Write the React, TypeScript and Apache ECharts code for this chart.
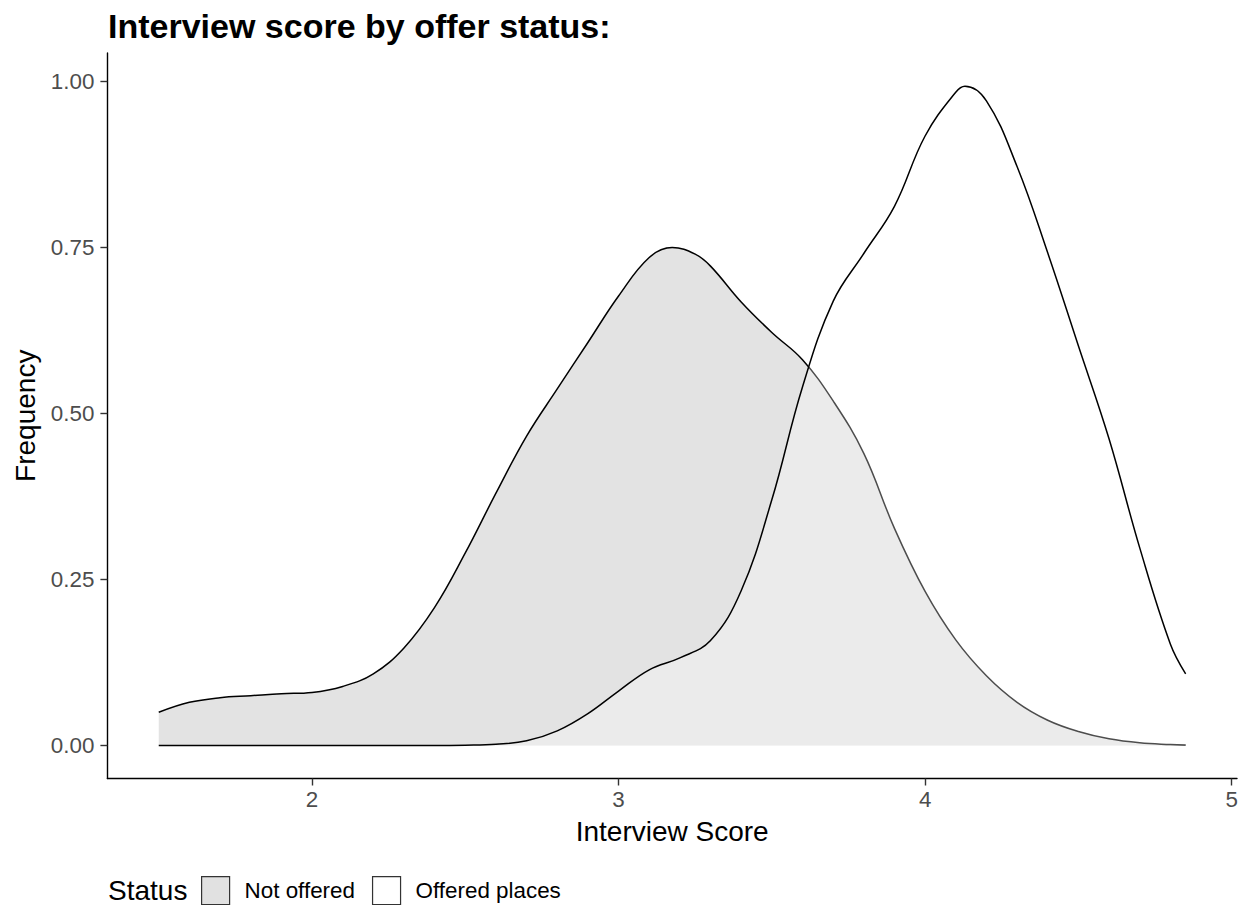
import React, { useEffect, useRef } from "react";
import * as echarts from "echarts";

const FONT = "'Liberation Sans', Arial, Helvetica, sans-serif";

const titleText = "Interview score by offer status:";
const xAxisTitle = "Interview Score";
const yAxisTitle = "Frequency";
const legendTitle = "Status";
const seriesNames = ["Not offered", "Offered places"];

const xTicks = [2, 3, 4, 5];
const yTicks = [0, 0.25, 0.5, 0.75, 1.0];

const notOfferedX = [
  1.5, 1.6, 1.7, 1.8, 1.9, 2.0, 2.1, 2.2, 2.3, 2.4, 2.5, 2.6, 2.7, 2.8, 2.9,
  3.0, 3.1, 3.175, 3.25, 3.3, 3.4, 3.5, 3.6, 3.7, 3.8, 3.9, 4.0, 4.1, 4.2, 4.3,
  4.4, 4.5, 4.6, 4.7, 4.8, 4.85,
];
const notOfferedY = [
  0.05, 0.065, 0.072, 0.075, 0.078, 0.08, 0.089, 0.108, 0.147, 0.208, 0.29,
  0.38, 0.466, 0.537, 0.607, 0.677, 0.735, 0.75, 0.74, 0.722, 0.668, 0.622,
  0.581, 0.519, 0.44, 0.327, 0.232, 0.159, 0.105, 0.065, 0.038, 0.021, 0.01,
  0.004, 0.0015, 0.0008,
];

const offeredX = [
  1.5, 1.6, 1.7, 1.8, 1.9, 2.0, 2.1, 2.2, 2.3, 2.4, 2.5, 2.6, 2.7, 2.8, 2.9,
  3.0, 3.1, 3.2, 3.3, 3.4, 3.5, 3.6, 3.7, 3.8, 3.9, 4.0, 4.1, 4.13, 4.2, 4.3,
  4.4, 4.5, 4.6, 4.7, 4.8, 4.85,
];
const offeredY = [
  0, 0, 0, 0, 0, 0, 0, 0, 0, 0, 0.0005, 0.002, 0.007, 0.022, 0.048, 0.082,
  0.114, 0.132, 0.158, 0.233, 0.37, 0.54, 0.669, 0.741, 0.812, 0.918, 0.984,
  0.993, 0.971, 0.872, 0.742, 0.602, 0.462, 0.298, 0.153, 0.108,
];

const zip = (xs: number[], ys: number[]) => xs.map((x, i) => [x, ys[i]]);

export default function App() {
  const ref = useRef<HTMLDivElement>(null);

  useEffect(() => {
    if (!ref.current) return;
    const chart = echarts.init(ref.current, undefined, { renderer: "svg" });
    const xMin = 1.3325;
    const xMax = 5.0175;
    const yMin = -0.0497;
    const yMax = 1.043;

    chart.setOption({
      animation: false,
      backgroundColor: "#ffffff",
      title: {
        text: titleText,
        left: 108,
        top: 9,
        padding: 0,
        textStyle: {
          fontFamily: FONT,
          fontSize: 34,
          fontWeight: "bold",
          color: "#000000",
        },
      },
      grid: {
        left: 107.4,
        right: 7,
        top: 53,
        bottom: 126.5,
        containLabel: false,
      },
      legend: {
        left: 201,
        top: 876,
        padding: 0,
        itemWidth: 28,
        itemHeight: 28,
        itemGap: 17,
        selectedMode: false,
        textStyle: {
          fontFamily: FONT,
          fontSize: 22.4,
          color: "#000000",
          padding: [0, 0, 0, 10],
        },
        data: [
          {
            name: seriesNames[0],
            icon: "rect",
            itemStyle: { color: "#e1e1e1", borderColor: "#333333", borderWidth: 1.2 },
          },
          {
            name: seriesNames[1],
            icon: "rect",
            itemStyle: { color: "#ffffff", borderColor: "#333333", borderWidth: 1.2 },
          },
        ],
      },
      graphic: [
        {
          type: "text",
          x: 108,
          y: 890,
          style: {
            text: legendTitle,
            fontFamily: FONT,
            fontSize: 28,
            fill: "#000000",
            verticalAlign: "middle",
            align: "left",
          },
        },
      ],
      xAxis: {
        type: "value",
        min: xMin,
        max: xMax,
        name: xAxisTitle,
        nameLocation: "middle",
        nameGap: 39,
        nameTextStyle: { fontFamily: FONT, fontSize: 28, color: "#000000" },
        splitLine: { show: false },
        axisLine: { show: true, onZero: false, lineStyle: { color: "#000000", width: 1.4 } },
        axisTick: {
          show: true,
          length: 7,
          customValues: xTicks,
          lineStyle: { color: "#333333", width: 1.4 },
        },
        axisLabel: {
          customValues: xTicks,
          margin: 10,
          fontFamily: FONT,
          fontSize: 22.4,
          color: "#4d4d4d",
          formatter: (v: number) => String(v),
        },
      },
      yAxis: {
        type: "value",
        min: yMin,
        max: yMax,
        name: yAxisTitle,
        nameLocation: "middle",
        nameGap: 64,
        nameRotate: 90,
        nameTextStyle: { fontFamily: FONT, fontSize: 28, color: "#000000" },
        splitLine: { show: false },
        axisLine: { show: true, onZero: false, lineStyle: { color: "#000000", width: 1.4 } },
        axisTick: {
          show: true,
          length: 7,
          customValues: yTicks,
          lineStyle: { color: "#333333", width: 1.4 },
        },
        axisLabel: {
          customValues: yTicks,
          margin: 13,
          fontFamily: FONT,
          fontSize: 22.4,
          color: "#4d4d4d",
          formatter: (v: number) => v.toFixed(2),
        },
      },
      series: [
        {
          name: seriesNames[0],
          type: "line",
          data: zip(notOfferedX, notOfferedY),
          smooth: 0.4,
          symbol: "none",
          itemStyle: { color: "#e1e1e1" },
          lineStyle: { color: "#000000", width: 1.5 },
          areaStyle: { color: "#e3e3e3", opacity: 1, origin: 0 },
          z: 2,
        },
        {
          name: seriesNames[1],
          type: "line",
          data: zip(offeredX, offeredY),
          smooth: 0.4,
          symbol: "none",
          itemStyle: { color: "#ffffff" },
          lineStyle: { color: "#000000", width: 1.5 },
          areaStyle: { color: "rgba(255,255,255,0.3)", opacity: 1, origin: 0 },
          z: 3,
        },
      ],
    });

    return () => chart.dispose();
  }, []);

  return (
    <div
      ref={ref}
      style={{ position: "absolute", left: 0, top: 0, width: 1244, height: 905 }}
    />
  );
}
